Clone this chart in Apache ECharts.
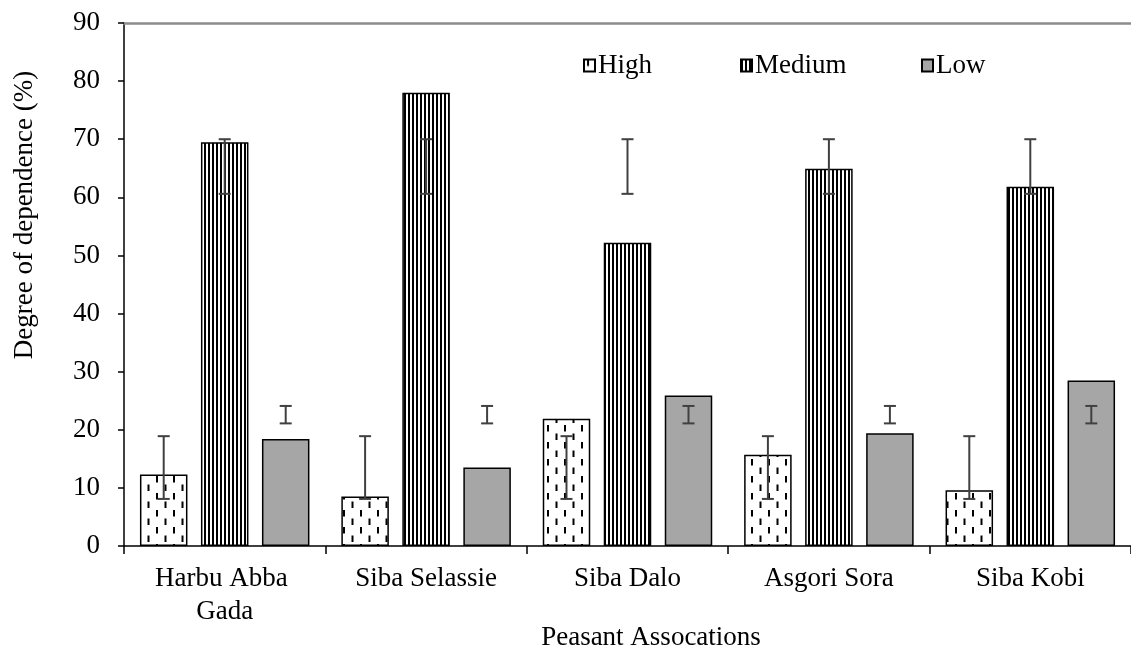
<!DOCTYPE html>
<html><head><meta charset="utf-8">
<script src="https://cdn.jsdelivr.net/npm/echarts@6/dist/echarts.min.js"></script>
<style>html,body{margin:0;padding:0;background:#fff}#c{width:1131px;height:653px}</style>
</head><body><div id="c"></div>
<script>
// ---- data ----
const categories = ['Harbu Abba Gada', 'Siba Selassie', 'Siba Dalo', 'Asgori Sora', 'Siba Kobi'];
const seriesNames = ['High', 'Medium', 'Low'];
const highValues = [12.3, 8.5, 21.9, 15.7, 9.6];
const mediumValues = [69.5, 78.0, 52.2, 64.9, 61.8];
const lowValues = [18.4, 13.5, 25.9, 19.4, 28.5];
const highErrLow = [8.1, 8.1, 8.1, 8.1, 8.1];
const highErrHigh = [18.9, 18.9, 18.9, 18.9, 18.9];
const mediumErrLow = [60.6, 60.6, 60.6, 60.6, 60.6];
const mediumErrHigh = [70.0, 70.0, 70.0, 70.0, 70.0];
const lowErrLow = [21.1, 21.1, 21.1, 21.1, 21.1];
const lowErrHigh = [24.1, 24.1, 24.1, 24.1, 24.1];
const yTicks = {min: 0, max: 90, interval: 10};

// ---- styles ----
const FONT = '"Liberation Serif", "Times New Roman", serif';
const FS = 27;
const BAR_W = 47.5;
const BAR_GAP = 13.5;

function makePattern(w, h, draw) {
  const c = document.createElement('canvas');
  c.width = w; c.height = h;
  const ctx = c.getContext('2d');
  ctx.fillStyle = '#fff'; ctx.fillRect(0, 0, w, h);
  draw(ctx);
  return {image: c, repeat: 'repeat'};
}
const highPattern = makePattern(17, 17, ctx => {
  ctx.fillStyle = '#000';
  ctx.fillRect(3, 0, 2, 6.5);
  ctx.fillRect(11.5, 8.5, 2, 6.5);
});
const mediumPattern = makePattern(4, 4, ctx => {
  ctx.fillStyle = '#000';
  ctx.fillRect(0, 0, 2, 4);
});

const chart = echarts.init(document.getElementById('c'), null, {renderer: 'canvas'});

function errData(lo, hi) { return categories.map((c, i) => [i, lo[i], hi[i]]); }
function errSeries(lo, hi, slot) {
  return {
    type: 'custom', silent: true, z: 5,
    data: errData(lo, hi),
    encode: {x: 0, y: [1, 2]},
    renderItem: function (params, api) {
      const a = api.coord([api.value(0), api.value(1)]);
      const b = api.coord([api.value(0), api.value(2)]);
      const cx = a[0] + slot * (BAR_W + BAR_GAP);
      const st = {stroke: '#404040', lineWidth: 2};
      return {type: 'group', children: [
        {type: 'line', shape: {x1: cx, y1: a[1], x2: cx, y2: b[1]}, style: st},
        {type: 'line', shape: {x1: cx - 6, y1: a[1], x2: cx + 6, y2: a[1]}, style: st},
        {type: 'line', shape: {x1: cx - 6, y1: b[1], x2: cx + 6, y2: b[1]}, style: st}
      ]};
    }
  };
}
const barBorder = {borderColor: '#000', borderWidth: 1.5};
function legend(name, left) {
  return {
    data: [name], left: left, top: 52, padding: 0, itemWidth: 11, itemHeight: 12,
    icon: 'rect',
    textStyle: {fontFamily: FONT, fontSize: FS, color: '#000', padding: [0, 0, 0, -2]},
    selectedMode: false
  };
}

chart.setOption({
  animation: false,
  backgroundColor: '#fff',
  grid: {left: 124, right: 0, top: 23, bottom: 107},
  legend: [legend('High', 583), legend('Medium', 740), legend('Low', 921)],
  xAxis: [{
    type: 'category', data: categories,
    axisLine: {lineStyle: {color: '#000', width: 1.5}},
    axisTick: {show: true, interval: 0, length: 8, lineStyle: {color: '#000', width: 1.5}},
    axisLabel: {interval: 0, fontFamily: FONT, fontSize: FS, color: '#000', margin: 16, lineHeight: 33,
      width: 180, overflow: 'break'},
    splitLine: {show: false}
  }, {
    type: 'category', data: categories, position: 'top',
    axisLine: {show: true, lineStyle: {color: '#8c8c8c', width: 2.5}},
    axisTick: {show: false}, axisLabel: {show: false}, splitLine: {show: false}
  }],
  yAxis: {
    type: 'value', min: yTicks.min, max: yTicks.max, interval: yTicks.interval,
    axisLine: {show: true, lineStyle: {color: '#000', width: 1.5}},
    axisTick: {show: true, length: 6, lineStyle: {color: '#000', width: 1.5}},
    axisLabel: {fontFamily: FONT, fontSize: FS, color: '#000', margin: 24},
    splitLine: {show: false}
  },
  graphic: [
    {type: 'text', x: 25, y: 215, rotation: Math.PI / 2,
      style: {text: 'Degree of dependence (%)', font: FS + 'px ' + FONT, fill: '#000', align: 'center', verticalAlign: 'middle'}},
    {type: 'text', x: 651, y: 638,
      style: {text: 'Peasant Assocations', font: FS + 'px ' + FONT, fill: '#000', align: 'center', verticalAlign: 'middle'}}
  ],
  series: [
    {name: seriesNames[0], type: 'bar', data: highValues, barWidth: BAR_W, barGap: (BAR_GAP / BAR_W * 100) + '%',
      itemStyle: Object.assign({color: highPattern}, barBorder)},
    {name: seriesNames[1], type: 'bar', data: mediumValues, barWidth: BAR_W, barGap: (BAR_GAP / BAR_W * 100) + '%',
      itemStyle: Object.assign({color: mediumPattern}, barBorder)},
    {name: seriesNames[2], type: 'bar', data: lowValues, barWidth: BAR_W, barGap: (BAR_GAP / BAR_W * 100) + '%',
      itemStyle: Object.assign({color: '#a6a6a6'}, barBorder)},
    errSeries(highErrLow, highErrHigh, -1),
    errSeries(mediumErrLow, mediumErrHigh, 0),
    errSeries(lowErrLow, lowErrHigh, 1)
  ]
});
</script></body></html>
